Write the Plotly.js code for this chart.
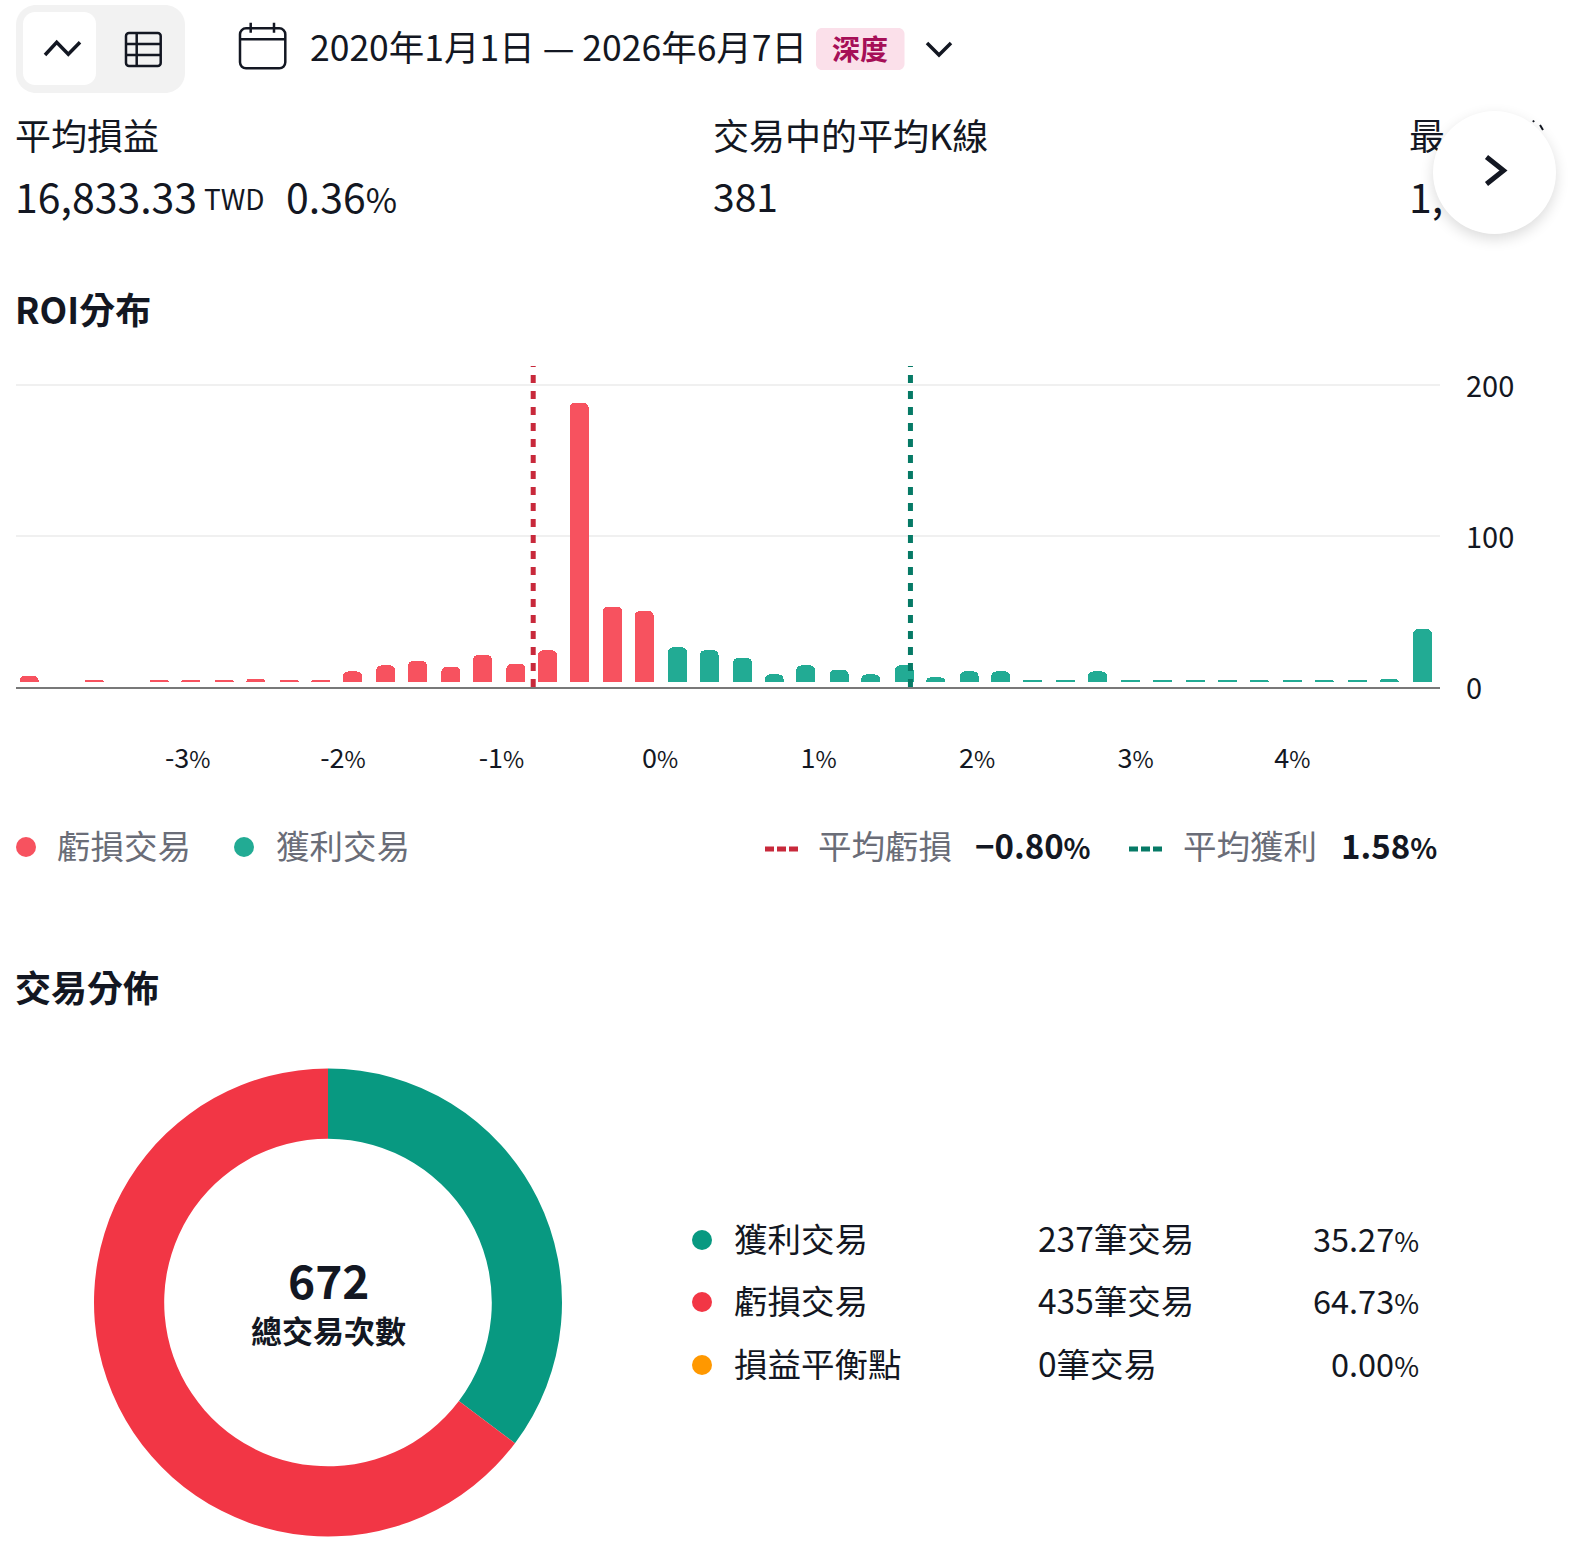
<!DOCTYPE html>
<html><head><meta charset="utf-8">
<script src="https://cdn.plot.ly/plotly-3.0.1.min.js"></script>
<style>html,body{margin:0;padding:0;background:#fff;overflow:hidden}
#chart{position:absolute;left:0;top:0;width:1576px;height:1550px}
#next{position:absolute;left:1433px;top:111px;width:123px;height:123px;border-radius:50%;background:#fff;box-shadow:0 5px 14px rgba(0,0,0,.14)}
#next svg{position:absolute;left:0;top:0}
</style></head><body>
<div id="chart"></div>
<div id="next"><svg width="123" height="123"><path d="M53.5 46 L70.5 59.5 L53.5 73" fill="none" stroke="#131722" stroke-width="5"/></svg></div>
<script>
const FONT='"Noto Sans CJK TC","Noto Sans",sans-serif';
const INK='#131722', GREY='#6A6D78';
const RED_BAR='#F7525F', GREEN_BAR='#22AB94', RED_MEAN='#C8293B', GREEN_MEAN='#067A66';
const RED_PIE='#F23645', GREEN_PIE='#089981', ORANGE_PIE='#FF9800';

// ROI histogram
const lossBins=[-3.98,-3.78,-3.57,-3.37,-3.16,-2.96,-2.75,-2.55,-2.34,-2.14,-1.94,-1.73,-1.53,-1.32,-1.12,-0.91,-0.71,-0.51,-0.30,-0.10];
const lossCounts=[4,0,1.2,0,1.2,1.2,1.2,2,1.2,1.5,7,11,14,10,18,12,21,185,50,47];
const winBins=[0.11,0.31,0.52,0.72,0.92,1.13,1.33,1.54,1.74,1.95,2.15,2.35,2.56,2.76,2.97,3.17,3.38,3.58,3.78,3.99,4.19,4.40,4.60,4.81];
const winCounts=[23,21,16,5,11,8,5,11,3,7,7,1.2,1.2,7,1.2,1.2,1.2,1.2,1.2,1.2,1.2,1.2,2,35];
const meanLoss=-0.80, meanWin=1.58;
const xTickVals=[-2.98,-2,-1,0,1,2,3,3.99];
const xTickText=['-3%','-2%','-1%','0%','1%','2%','3%','4%'];
const yTickVals=[0,100,200];

// Trade distribution
const pieLabels=['獲利交易','虧損交易','損益平衡點'];
const pieValues=[237,435,0];
const pieTrades=['237筆交易','435筆交易','0筆交易'];
const piePercents=['35.27%','64.73%','0.00%'];
const pieColors=[GREEN_PIE,RED_PIE,ORANGE_PIE];

const W=1576,H=1550;
const px=x=>x/W, py=y=>1-y/H;
const ann=[], shp=[];
// the reference's percent sign is narrow: draw it slightly smaller so the text runs keep their extents
const pct=(s,size)=>s.replace('%','<span style="font-size:'+Math.round(size*0.84)+'px">%</span>');
function T(x,y,text,size,opt={}){
  const a=opt.a||'left';
  const t=pct(text,size);
  ann.push({xref:'paper',yref:'paper',x:px(a==='left'?x-3:x),y:py(y-2.5),text:opt.bold?'<b>'+t+'</b>':t,showarrow:false,
    xanchor:a,yanchor:'middle',borderpad:0,
    font:{family:FONT,size:size,color:opt.c||INK}});
}
function P(path,o={}){shp.push({type:'path',xref:'paper',yref:'paper',layer:'above',path:path,
  line:{color:o.c||INK,width:o.w===undefined?3:o.w,dash:o.dash||'solid'},fillcolor:o.f||'rgba(0,0,0,0)'});}
function pt(x,y){return px(x)+','+py(y);}
function RR(x0,y0,x1,y1,r){
  const k=r*0.45;
  return 'M'+pt(x0+r,y0)+' L'+pt(x1-r,y0)+' C'+pt(x1-k,y0)+' '+pt(x1,y0+k)+' '+pt(x1,y0+r)+
   ' L'+pt(x1,y1-r)+' C'+pt(x1,y1-k)+' '+pt(x1-k,y1)+' '+pt(x1-r,y1)+
   ' L'+pt(x0+r,y1)+' C'+pt(x0+k,y1)+' '+pt(x0,y1-k)+' '+pt(x0,y1-r)+
   ' L'+pt(x0,y0+r)+' C'+pt(x0,y0+k)+' '+pt(x0+k,y0)+' '+pt(x0+r,y0)+' Z';
}
function dot(cx,cy,r,color){shp.push({type:'circle',xref:'paper',yref:'paper',layer:'above',
  x0:px(cx-r),x1:px(cx+r),y0:py(cy+r),y1:py(cy-r),fillcolor:color,line:{width:0}});}

// toolbar
P(RR(16,5,185,93,20),{w:0,f:'#F2F2F2'});
P(RR(23,12,96,85,12),{w:0,f:'#FFFFFF'});
P('M'+pt(45,55)+' L'+pt(56.7,42.3)+' L'+pt(68.3,54.3)+' L'+pt(80,42.3),{w:3.5});
P(RR(126,33,160.7,66,3),{w:2.5});
P('M'+pt(126,44)+' L'+pt(160.7,44)+' M'+pt(126,55)+' L'+pt(160.7,55)+' M'+pt(136.7,33)+' L'+pt(136.7,66),{w:2.5});
P(RR(240,28.3,285.3,68.3,6),{w:2.5});
P('M'+pt(240,39.3)+' L'+pt(285.3,39.3)+' M'+pt(250.7,22.7)+' L'+pt(250.7,32.7)+' M'+pt(274,22.7)+' L'+pt(274,32.7),{w:2.5});
T(312,48,'2020年1月1日 — 2026年6月7日',35.5);
P(RR(816,28,904.5,70,6),{w:0,f:'#FBE0EA'});
T(860,51,'深度',28,{a:'center',bold:true,c:'#A60F57'});
P('M'+pt(927,43)+' L'+pt(939,55)+' L'+pt(951,43),{w:3.5});

// stats
T(17,136,'平均損益',36);
T(17,197,'16,833.33',41);
T(206,200,'TWD',28);
T(288,197,'0.36%',41);
T(715,136,'交易中的平均K線',36);
T(715,197,'381',39);
T(1411,136,'最',36);
T(1411,197,'1,',41);
P('M'+pt(1533,120.5)+' L'+pt(1534,122)+' M'+pt(1540,125)+' L'+pt(1543,130),{w:2});

// section titles
T(17,311,'ROI分布',36,{bold:true});
T(17,988,'交易分佈',36,{bold:true});

// ROI legend
dot(26,847,10,RED_BAR); T(58.5,847,'虧損交易',33.5,{c:GREY});
dot(244,847,10,GREEN_BAR); T(278,847,'獲利交易',33.5,{c:GREY});
P('M'+pt(765,849)+' L'+pt(798,849),{w:5,c:RED_MEAN,dash:'9px,3px'});
T(820,847,'平均虧損',33.5,{c:GREY});
T(977,847,'−0.80%',33,{bold:true});
P('M'+pt(1129,849)+' L'+pt(1162,849),{w:5,c:GREEN_MEAN,dash:'9px,3px'});
T(1185,847,'平均獲利',33.5,{c:GREY});
T(1343,847,'1.58%',33,{bold:true});

// donut centre
T(328,1281,'672',46,{a:'center',bold:true});
T(328,1332,'總交易次數',31,{a:'center',bold:true});

// donut table
const rowY=[1240,1302,1365];
pieLabels.forEach((l,i)=>{
  dot(702,rowY[i],10,pieColors[i]);
  T(735.5,rowY[i],l,33.5);
  T(1040,rowY[i],pieTrades[i],33.5);
  T(1420,rowY[i],piePercents[i],32.5,{a:'right'});
});

// mean lines
[[meanLoss,RED_MEAN],[meanWin,GREEN_MEAN]].forEach(([v,c])=>{
  shp.push({type:'line',xref:'x',yref:'paper',layer:'above',x0:v,x1:v,y0:py(687),y1:py(366),
    line:{color:c,width:5,dash:'8px,8px'}});
});

const traces=[
 {type:'bar',x:lossBins,y:lossCounts,yaxis:'y2',width:0.12,marker:{color:RED_BAR,line:{width:0}},name:'虧損交易',hoverinfo:'x+y'},
 {type:'bar',x:winBins,y:winCounts,yaxis:'y2',width:0.12,marker:{color:GREEN_BAR,line:{width:0}},name:'獲利交易',hoverinfo:'x+y'},
 // keeps the tick axis alive; draws nothing visible
 {type:'scatter',x:[0],y:[0],yaxis:'y',mode:'none',hoverinfo:'skip',showlegend:false},
 {type:'pie',labels:pieLabels,values:pieValues,hole:0.70,sort:false,direction:'clockwise',rotation:0,
  marker:{colors:pieColors,line:{width:0}},textinfo:'none',showlegend:false,
  domain:{x:[px(328-234),px(328+234)],y:[py(1302.5+234),py(1302.5-234)]}}
];
const layout={
 width:W,height:H,margin:{l:0,r:0,t:0,b:0,pad:0},paper_bgcolor:'#fff',plot_bgcolor:'#fff',showlegend:false,
 barcornerradius:5,bargap:0,barmode:'overlay',
 font:{family:FONT,color:INK},
 xaxis:{domain:[px(16),px(1440)],range:[-4.063,4.921],tickmode:'array',tickvals:xTickVals,ticktext:xTickText.map(s=>pct(s,27)),
   showgrid:false,zeroline:false,showline:true,linecolor:'#787878',linewidth:2,ticks:'',ticklabelstandoff:47,
   tickfont:{family:FONT,size:27,color:INK},anchor:'y'},
 yaxis:{domain:[py(687),py(366)],range:[0,212.6],side:'right',tickmode:'array',tickvals:yTickVals,
   showgrid:true,gridcolor:'#F0F0F0',gridwidth:1.5,zeroline:false,showline:false,ticks:'',ticklabelstandoff:25,ticklabelshift:2,
   tickfont:{family:FONT,size:29,color:INK},anchor:'x'},
 // bars stand about 5 px above the axis line in the reference
 yaxis2:{overlaying:'y',domain:[py(687),py(366)],range:[-3.3,209.3],visible:false,anchor:'x'},
 annotations:ann,shapes:shp
};
Plotly.newPlot('chart',traces,layout,{displayModeBar:false,staticPlot:true});
</script></body></html>
